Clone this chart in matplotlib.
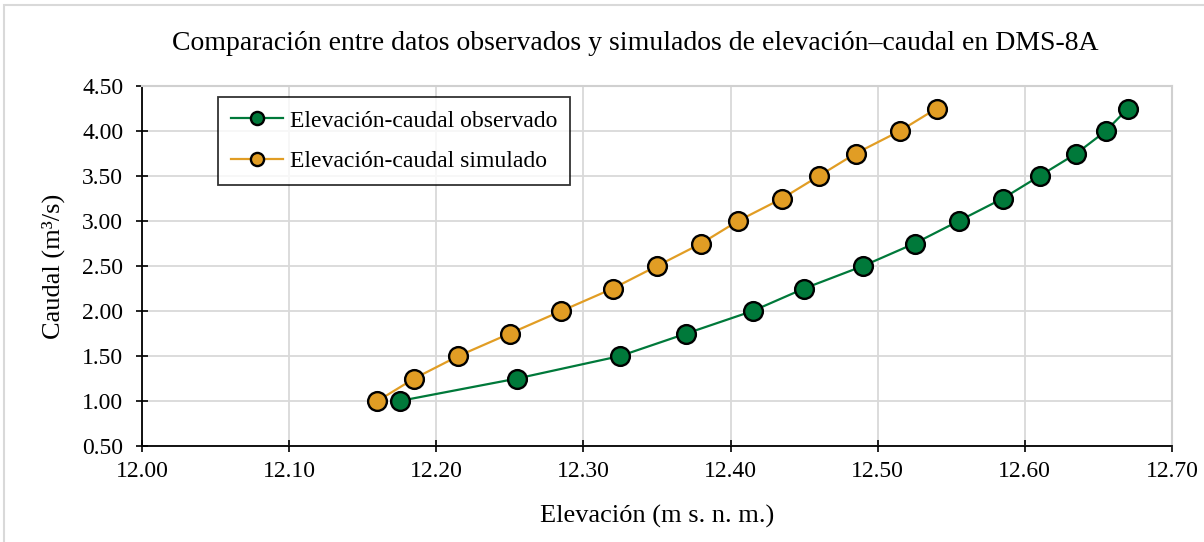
import matplotlib.pyplot as plt
from matplotlib.patches import Rectangle

plt.rcParams['font.family'] = ['Liberation Serif', 'DejaVu Serif']

caudal = [1.00, 1.25, 1.50, 1.75, 2.00, 2.25, 2.50, 2.75, 3.00, 3.25, 3.50, 3.75, 4.00, 4.25]
elev_obs = [12.175, 12.255, 12.325, 12.37, 12.415, 12.45, 12.49, 12.525,
            12.555, 12.585, 12.61, 12.635, 12.655, 12.67]
elev_sim = [12.16, 12.185, 12.215, 12.25, 12.285, 12.32, 12.35, 12.38,
            12.405, 12.435, 12.46, 12.485, 12.515, 12.54]

x_ticks = [12.00, 12.10, 12.20, 12.30, 12.40, 12.50, 12.60, 12.70]
y_ticks = [0.50, 1.00, 1.50, 2.00, 2.50, 3.00, 3.50, 4.00, 4.50]

green = "#00793A"
orange = "#E19D24"

fig = plt.figure(figsize=(12.04, 5.42), dpi=100)
ax = fig.add_axes([142 / 1204, 1 - 446 / 542, 1030 / 1204, 360 / 542])

ax.plot(elev_obs, caudal, "-o", color=green, lw=1.6, ms=13.5,
        mfc=green, mec="black", mew=1.7, label="Elevación-caudal observado", zorder=3)
ax.plot(elev_sim, caudal, "-o", color=orange, lw=1.6, ms=13.5,
        mfc=orange, mec="black", mew=1.7, label="Elevación-caudal simulado", zorder=3)

ax.set_xlim(12.0, 12.7)
ax.set_ylim(0.5, 4.5)
ax.set_xticks(x_ticks)
ax.set_yticks(y_ticks)
ax.set_xticklabels([f"{v:.2f}" for v in x_ticks])
ax.set_yticklabels([f"{v:.2f}" for v in y_ticks])
ax.tick_params(direction="inout", length=9, width=1.2, labelsize=17, colors="black")
ax.tick_params(axis="x", pad=6)
ax.tick_params(axis="y", pad=9)
ax.grid(True, color="#d9d9d9", lw=1.3, zorder=0)
ax.set_axisbelow(True)

for s in ["top", "right"]:
    ax.spines[s].set_color("#d0d0d0")
    ax.spines[s].set_linewidth(1.5)
for s in ["left", "bottom"]:
    ax.spines[s].set_color("black")
    ax.spines[s].set_linewidth(1.3)

ax.set_xlabel("Elevación (m s. n. m.)", fontsize=19, labelpad=17)
ax.set_ylabel("Caudal (m³/s)", fontsize=19, labelpad=12)
fig.text(0.5 + 33 / 1204, 1 - 43 / 542,
         "Comparación entre datos observados y simulados de elevación–caudal en DMS-8A",
         ha="center", va="center", fontsize=20)

leg = ax.legend(loc="upper left", bbox_to_anchor=(76 / 1030, 1 - 11 / 360),
                fontsize=17, frameon=True, fancybox=False, markerscale=0.7,
                handlelength=2.2, handletextpad=0.3, borderpad=0.55,
                labelspacing=0.8, borderaxespad=0)
leg.get_frame().set_edgecolor("black")
leg.get_frame().set_linewidth(1.3)

fig.patches.append(Rectangle((4 / 1204, -0.01), 1.02, 1 - 5 / 542 + 0.01,
                             transform=fig.transFigure, fill=False,
                             edgecolor="#d9d9d9", lw=1.5))

fig.savefig("out.png", dpi=100)
